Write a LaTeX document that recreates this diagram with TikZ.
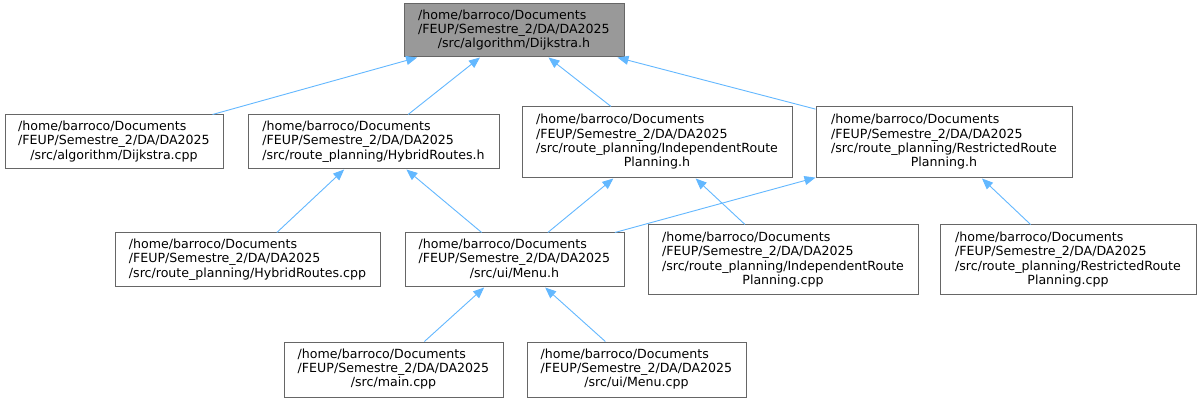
\documentclass[tikz,border=0pt]{standalone}
\usepackage{fontspec}
\setmainfont{DejaVu Sans}
\usetikzlibrary{arrows.meta}
\definecolor{edgec}{HTML}{63B8FF}
\definecolor{borderc}{HTML}{666666}
\definecolor{topfill}{HTML}{999999}
\newcommand{\flines}[1]{\begin{tabular}{@{}l@{}}#1\end{tabular}}
\newcommand{\lastc}[1]{\multicolumn{1}{@{}c@{}}{#1}}
\tikzset{
  filebox/.style={draw=borderc, line width=1pt, fill=white, inner sep=0pt,
    font=\fontsize{12.6}{14.3}\selectfont},
  topbox/.style={filebox, fill=topfill},
  edge/.style={draw=edgec, line width=0.9pt, {Triangle[length=11pt,width=9pt]}-}
}
\begin{document}
\begin{tikzpicture}[x=1pt,y=-1pt]
\fill[white] (0,0) rectangle (1202,403);
\useasboundingbox (0,0) rectangle (1202,403);

\node[topbox, minimum width=220pt, minimum height=53pt] (dh) at (514,30.5)
  {\flines{/home/barroco/Documents\\/FEUP/Semestre\_2/DA/DA2025\\\lastc{/src/algorithm/Dijkstra.h}}};

\node[filebox, minimum width=218pt, minimum height=54pt] (dcpp) at (114,142)
  {\flines{/home/barroco/Documents\\/FEUP/Semestre\_2/DA/DA2025\\\lastc{/src/algorithm/Dijkstra.cpp}}};
\node[filebox, minimum width=251pt, minimum height=54pt] (hrh) at (373.5,142)
  {\flines{/home/barroco/Documents\\/FEUP/Semestre\_2/DA/DA2025\\\lastc{/src/route\_planning/HybridRoutes.h}}};
\node[filebox, minimum width=270pt, minimum height=71pt] (irph) at (657,142.5)
  {\flines{/home/barroco/Documents\\/FEUP/Semestre\_2/DA/DA2025\\/src/route\_planning/IndependentRoute\\\lastc{Planning.h}}};
\node[filebox, minimum width=256pt, minimum height=71pt] (rrph) at (944,142.5)
  {\flines{/home/barroco/Documents\\/FEUP/Semestre\_2/DA/DA2025\\/src/route\_planning/RestrictedRoute\\\lastc{Planning.h}}};

\node[filebox, minimum width=265pt, minimum height=54pt] (hrcpp) at (247.5,260)
  {\flines{/home/barroco/Documents\\/FEUP/Semestre\_2/DA/DA2025\\\lastc{/src/route\_planning/HybridRoutes.cpp}}};
\node[filebox, minimum width=219pt, minimum height=54pt] (menuh) at (514.5,260)
  {\flines{/home/barroco/Documents\\/FEUP/Semestre\_2/DA/DA2025\\\lastc{/src/ui/Menu.h}}};
\node[filebox, minimum width=270pt, minimum height=70pt] (irpcpp) at (783,260)
  {\flines{/home/barroco/Documents\\/FEUP/Semestre\_2/DA/DA2025\\/src/route\_planning/IndependentRoute\\\lastc{Planning.cpp}}};
\node[filebox, minimum width=256pt, minimum height=70pt] (rrpcpp) at (1068,260)
  {\flines{/home/barroco/Documents\\/FEUP/Semestre\_2/DA/DA2025\\/src/route\_planning/RestrictedRoute\\\lastc{Planning.cpp}}};

\node[filebox, minimum width=219pt, minimum height=55pt] (maincpp) at (393.5,369.5)
  {\flines{/home/barroco/Documents\\/FEUP/Semestre\_2/DA/DA2025\\\lastc{/src/main.cpp}}};
\node[filebox, minimum width=219pt, minimum height=55pt] (menucpp) at (636.5,369.5)
  {\flines{/home/barroco/Documents\\/FEUP/Semestre\_2/DA/DA2025\\\lastc{/src/ui/Menu.cpp}}};

\draw[edge] (dh) -- (dcpp);
\draw[edge] (dh) -- (hrh);
\draw[edge] (dh) -- (irph);
\draw[edge] (dh) -- (rrph);
\draw[edge] (hrh) -- (hrcpp);
\draw[edge] (hrh) -- (menuh);
\draw[edge] (irph) -- (menuh);
\draw[edge] (irph) -- (irpcpp);
\draw[edge] (rrph) -- (menuh);
\draw[edge] (rrph) -- (rrpcpp);
\draw[edge] (menuh) -- (maincpp);
\draw[edge] (menuh) -- (menucpp);
\end{tikzpicture}
\end{document}
